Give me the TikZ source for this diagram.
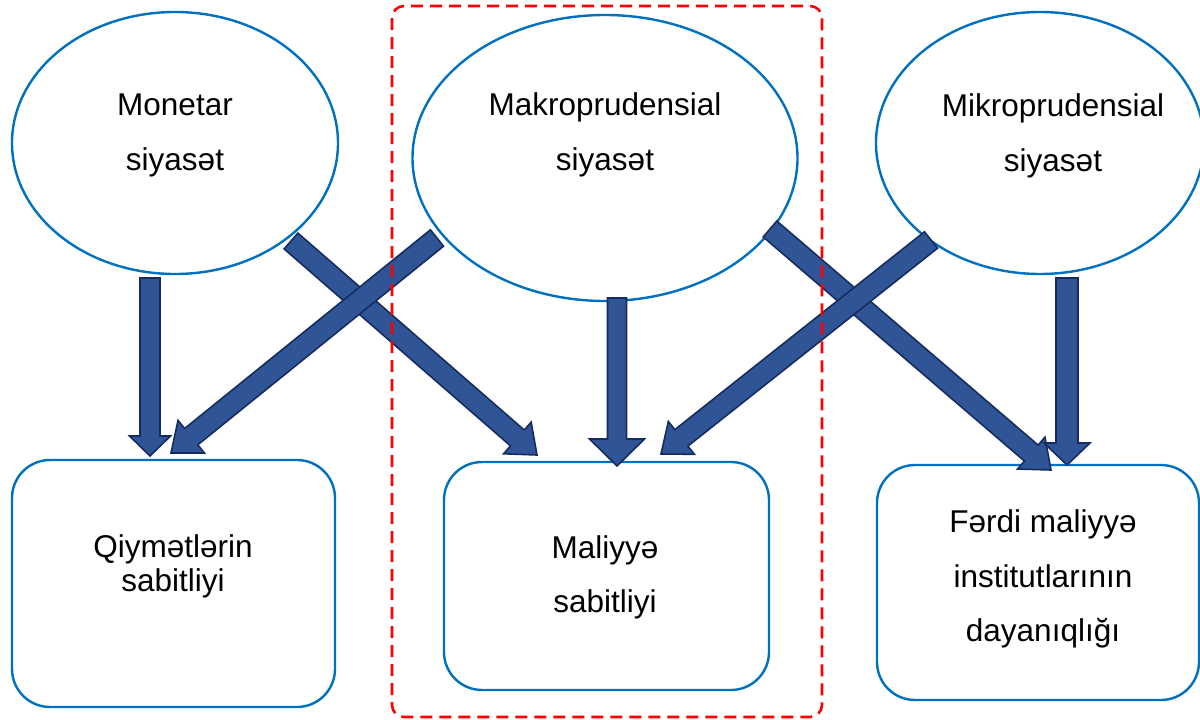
\documentclass[tikz,border=0pt]{standalone}
\usepackage{fontspec}
\setmainfont{Liberation Sans}
\usetikzlibrary{calc,shapes.geometric}
\definecolor{eblue}{HTML}{0070C0}
\definecolor{afill}{HTML}{2F5597}
\definecolor{aline}{HTML}{172C5E}
\definecolor{dred}{HTML}{FF0000}
\newcommand\barrow[5]{% from, to, shaft half, head half, head length
  \path ($(#2)!#5!(#1)$) coordinate (bh);
  \filldraw[blockarrow] ($(#1)!#3!90:(#2)$) -- ($(bh)!#3!90:(#2)$) -- ($(bh)!#4!90:(#2)$) -- (#2)
    -- ($(bh)!#4!-90:(#2)$) -- ($(bh)!#3!-90:(#2)$) -- ($(#1)!#3!-90:(#2)$) -- cycle;
}
\begin{document}
\begin{tikzpicture}[x=1pt,y=-1pt,
  ell/.style={ellipse,draw=eblue,line width=2.4pt,fill=white,inner sep=0pt},
  rbox/.style={draw=eblue,line width=2.4pt,rounded corners=38pt},
  lbl/.style={anchor=base,inner sep=0pt,font=\fontsize{31.5}{36}\selectfont},
  blockarrow/.style={fill=afill,draw=aline,line width=1.6pt,line join=miter},
  redbox/.style={draw=dred,line width=2.6pt,dash pattern=on 12pt off 7pt,rounded corners=12pt}]
\useasboundingbox (0,0) rectangle (1200,720);
% ellipses
\node[ell,minimum width=326pt,minimum height=262pt] (e1) at (175,143) {};
\node[ell,minimum width=385pt,minimum height=286pt] (e2) at (605,158) {};
\node[ell,minimum width=328pt,minimum height=262pt] (e3) at (1040,143) {};
% boxes
\draw[rbox] (12,460) rectangle (335,707);
\node[inner sep=0pt] (b1) at (173.5,583.5) {};
\draw[rbox] (444,462) rectangle (769,690);
\node[inner sep=0pt] (b2) at (606.5,576) {};
\draw[rbox] (877,465) rectangle (1199,700);
\node[inner sep=0pt] (b3) at (1038,582.5) {};
% texts
\node[lbl] (t1a) at (175,115) {Monetar};
\node[lbl] (t1b) at (175,170) {siyasət};
\node[lbl] (t2a) at (605,115) {Makroprudensial};
\node[lbl] (t2b) at (605,170) {siyasət};
\node[lbl] (t3a) at (1053,116) {Mikroprudensial};
\node[lbl] (t3b) at (1053,171) {siyasət};
\node[lbl] (t4a) at (173,557) {Qiymətlərin};
\node[lbl] (t4b) at (173,591) {sabitliyi};
\node[lbl] (t5a) at (605,558) {Maliyyə};
\node[lbl] (t5b) at (605,612) {sabitliyi};
\node[lbl] (t6a) at (1043,532) {Fərdi maliyyə};
\node[lbl] (t6b) at (1043,587) {institutlarının};
\node[lbl] (t6c) at (1043,641) {dayanıqlığı};
% arrow end points
\coordinate (v1s) at (150,278); \coordinate (v1e) at (150,456);
\coordinate (v2s) at (617,298); \coordinate (v2e) at (617,466);
\coordinate (v3s) at (1067,278); \coordinate (v3e) at (1067,465);
\coordinate (das) at (291,241); \coordinate (dae) at (537,455);
\coordinate (dbs) at (437,238); \coordinate (dbe) at (171,453);
\coordinate (dcs) at (931,240); \coordinate (dce) at (661,454);
\coordinate (dds) at (770,229); \coordinate (dde) at (1051,470);
% arrows
\barrow{v1s}{v1e}{10pt}{20.5pt}{20pt}
\barrow{v2s}{v2e}{9.5pt}{27.5pt}{27pt}
\barrow{das}{dae}{10.5pt}{21pt}{26pt}
\barrow{dbs}{dbe}{10.5pt}{21pt}{26pt}
\barrow{dds}{dde}{10.5pt}{21pt}{26pt}
\barrow{v3s}{v3e}{11pt}{23pt}{22pt}
\barrow{dcs}{dce}{10.5pt}{21pt}{26pt}
% dashed frame
\draw[redbox] (392,6) rectangle (822,717);
\end{tikzpicture}
\end{document}
